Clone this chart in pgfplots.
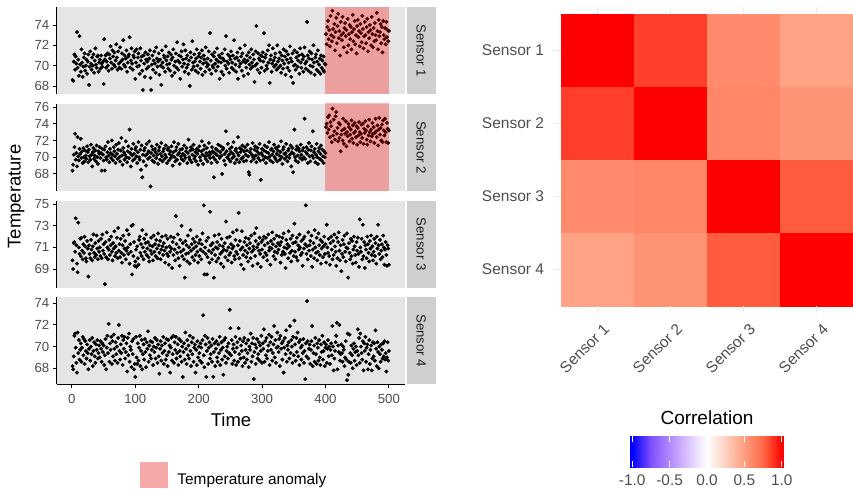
\documentclass[border=0pt]{standalone}
\usepackage{pgfplots}
\pgfplotsset{compat=1.18}
\usepackage{pgfplotstable}
\usepackage{fontspec}
\setmainfont{Liberation Sans}

\definecolor{panelbg}{HTML}{E5E5E5}
\definecolor{stripbg}{HTML}{CFCFCF}
\definecolor{ticktxt}{HTML}{4D4D4D}
\definecolor{striptxt}{HTML}{1A1A1A}
\definecolor{gridc}{HTML}{EBEBEB}
\definecolor{keyfill}{RGB}{246,169,169}

% temperature readings, t = 1..500
\pgfplotstableread[row sep=\\]{y\\
68.6\\ 68.5\\ 70.4\\ 71.1\\ 69.6\\ 70.9\\ 70.2\\ 73.3\\ 69.8\\ 70.6\\ 69.0\\ 72.9\\ 70.1\\ 69.4\\ 71.6\\ 70.3\\ 68.9\\ 69.9\\ 70.8\\ 71.2\\ 69.5\\ 70.0\\ 70.6\\ 69.2\\ 70.4\\
71.1\\ 68.1\\ 69.9\\ 71.4\\ 70.2\\ 69.6\\ 70.8\\ 70.0\\ 71.1\\ 69.3\\ 70.5\\ 71.7\\ 70.1\\ 69.8\\ 70.9\\ 71.0\\ 69.4\\ 70.3\\ 70.6\\ 69.7\\ 71.0\\ 70.2\\ 69.9\\ 70.4\\ 68.2\\
72.6\\ 70.6\\ 71.0\\ 69.8\\ 70.4\\ 71.2\\ 70.0\\ 69.5\\ 71.1\\ 70.7\\ 71.9\\ 70.3\\ 69.7\\ 71.5\\ 70.9\\ 70.1\\ 71.3\\ 69.9\\ 70.5\\ 72.1\\ 70.8\\ 69.6\\ 71.4\\ 70.2\\ 69.8\\
71.8\\ 70.4\\ 69.7\\ 71.2\\ 70.6\\ 72.5\\ 70.1\\ 71.0\\ 69.9\\ 70.7\\ 71.5\\ 69.4\\ 70.3\\ 70.9\\ 71.1\\ 72.8\\ 69.8\\ 70.5\\ 71.7\\ 70.2\\ 69.6\\ 71.0\\ 70.8\\ 71.4\\ 68.7\\
70.3\\ 71.6\\ 69.9\\ 70.8\\ 71.2\\ 70.0\\ 69.2\\ 71.7\\ 70.5\\ 70.9\\ 69.5\\ 67.6\\ 71.0\\ 70.2\\ 68.9\\ 71.3\\ 70.6\\ 69.7\\ 70.4\\ 71.1\\ 69.9\\ 70.7\\ 71.5\\ 68.8\\ 67.6\\
70.1\\ 71.0\\ 69.6\\ 70.5\\ 71.4\\ 70.2\\ 69.3\\ 71.8\\ 70.7\\ 69.9\\ 70.4\\ 71.2\\ 69.1\\ 70.6\\ 70.0\\ 68.1\\ 71.5\\ 70.3\\ 69.8\\ 71.0\\ 70.8\\ 69.4\\ 71.9\\ 70.5\\ 70.1\\
70.9\\ 69.7\\ 71.3\\ 70.2\\ 69.5\\ 71.1\\ 70.6\\ 69.0\\ 70.8\\ 71.6\\ 70.0\\ 69.3\\ 70.4\\ 71.2\\ 69.8\\ 72.3\\ 70.5\\ 69.6\\ 71.0\\ 70.3\\ 68.7\\ 70.9\\ 71.4\\ 69.9\\ 70.6\\
72.1\\ 70.2\\ 69.4\\ 71.5\\ 70.7\\ 69.8\\ 71.0\\ 70.1\\ 69.2\\ 70.5\\ 68.0\\ 71.3\\ 70.8\\ 69.6\\ 72.4\\ 70.3\\ 69.9\\ 71.1\\ 70.4\\ 69.5\\ 70.7\\ 71.6\\ 70.0\\ 69.3\\ 70.9\\
71.2\\ 70.4\\ 69.7\\ 70.8\\ 71.5\\ 69.1\\ 70.2\\ 71.0\\ 70.6\\ 69.4\\ 71.8\\ 70.3\\ 69.9\\ 70.7\\ 70.1\\ 71.4\\ 69.6\\ 73.2\\ 70.5\\ 69.2\\ 71.1\\ 70.0\\ 69.8\\ 70.9\\ 71.3\\
70.2\\ 69.5\\ 70.6\\ 71.7\\ 69.9\\ 70.4\\ 71.0\\ 68.7\\ 70.8\\ 70.3\\ 69.4\\ 71.2\\ 70.7\\ 69.1\\ 70.5\\ 71.6\\ 70.0\\ 72.9\\ 69.7\\ 70.4\\ 71.1\\ 70.2\\ 69.3\\ 70.9\\ 70.6\\
71.4\\ 69.8\\ 70.3\\ 71.0\\ 69.6\\ 72.5\\ 70.7\\ 70.1\\ 69.4\\ 70.8\\ 71.3\\ 68.7\\ 70.5\\ 69.9\\ 71.7\\ 70.2\\ 70.9\\ 69.5\\ 71.2\\ 70.4\\ 69.0\\ 70.6\\ 72.0\\ 70.3\\ 69.8\\
71.0\\ 70.5\\ 69.2\\ 71.3\\ 70.1\\ 70.8\\ 69.7\\ 71.6\\ 70.3\\ 69.9\\ 71.1\\ 70.6\\ 68.4\\ 70.0\\ 71.4\\ 73.9\\ 70.2\\ 69.6\\ 71.2\\ 70.7\\ 69.3\\ 70.5\\ 71.0\\ 69.8\\ 70.9\\
71.3\\ 70.4\\ 73.2\\ 69.5\\ 70.8\\ 71.1\\ 70.0\\ 69.7\\ 71.5\\ 70.3\\ 72.0\\ 68.3\\ 70.6\\ 71.0\\ 69.4\\ 70.2\\ 71.7\\ 70.5\\ 69.9\\ 70.8\\ 71.2\\ 70.1\\ 69.6\\ 72.0\\ 70.4\\
69.8\\ 70.7\\ 71.3\\ 70.0\\ 69.3\\ 71.0\\ 70.5\\ 69.7\\ 71.6\\ 70.2\\ 70.9\\ 69.1\\ 71.4\\ 70.6\\ 69.8\\ 71.1\\ 70.3\\ 69.5\\ 71.9\\ 70.7\\ 68.9\\ 70.4\\ 71.2\\ 68.3\\ 70.0\\
71.5\\ 70.1\\ 69.6\\ 70.8\\ 71.3\\ 69.9\\ 70.5\\ 71.0\\ 69.2\\ 71.7\\ 70.3\\ 69.8\\ 71.1\\ 70.6\\ 69.4\\ 70.9\\ 71.8\\ 70.2\\ 69.7\\ 70.4\\ 74.3\\ 71.0\\ 69.5\\ 70.7\\ 71.4\\
70.0\\ 69.3\\ 71.2\\ 70.6\\ 69.9\\ 72.0\\ 70.3\\ 69.1\\ 70.8\\ 71.1\\ 69.6\\ 70.4\\ 71.5\\ 69.4\\ 70.1\\ 70.7\\ 69.2\\ 71.0\\ 69.8\\ 70.5\\ 69.6\\ 70.9\\ 69.4\\ 70.2\\ 70.1\\
73.1\\ 72.1\\ 73.8\\ 74.4\\ 72.6\\ 73.5\\ 71.9\\ 74.9\\ 73.0\\ 72.4\\ 75.4\\ 73.6\\ 72.8\\ 74.1\\ 71.5\\ 73.3\\ 74.7\\ 72.2\\ 73.9\\ 75.1\\ 72.7\\ 73.4\\ 71.0\\ 74.3\\ 73.0\\
72.5\\ 74.8\\ 73.2\\ 71.8\\ 73.7\\ 74.2\\ 72.9\\ 73.5\\ 71.3\\ 74.6\\ 72.0\\ 73.1\\ 74.0\\ 72.6\\ 73.8\\ 71.6\\ 73.3\\ 75.0\\ 72.4\\ 73.6\\ 74.4\\ 72.1\\ 73.0\\ 71.2\\ 73.9\\
74.5\\ 72.8\\ 73.4\\ 71.9\\ 74.1\\ 73.2\\ 72.3\\ 74.9\\ 73.6\\ 71.7\\ 72.9\\ 74.3\\ 73.0\\ 72.2\\ 73.8\\ 74.6\\ 71.4\\ 73.3\\ 72.7\\ 74.0\\ 73.5\\ 72.0\\ 74.8\\ 73.1\\ 71.8\\
73.7\\ 72.4\\ 74.2\\ 73.0\\ 72.5\\ 75.2\\ 73.4\\ 71.6\\ 74.5\\ 72.9\\ 73.3\\ 74.1\\ 72.2\\ 73.8\\ 71.3\\ 74.4\\ 73.0\\ 72.6\\ 73.7\\ 72.1\\ 74.3\\ 72.8\\ 73.5\\ 72.4\\ 73.4\\
}\sone

\pgfplotstableread[row sep=\\]{y\\
68.4\\ 69.1\\ 70.3\\ 71.2\\ 72.8\\ 69.7\\ 70.5\\ 68.9\\ 72.4\\ 70.1\\ 69.6\\ 71.0\\ 70.4\\ 72.2\\ 69.9\\ 70.7\\ 69.3\\ 71.1\\ 70.0\\ 69.5\\ 70.8\\ 70.2\\ 69.8\\ 71.3\\ 70.6\\
69.4\\ 70.9\\ 70.1\\ 69.7\\ 71.5\\ 70.3\\ 68.9\\ 70.6\\ 71.1\\ 69.8\\ 70.2\\ 70.8\\ 69.5\\ 71.4\\ 70.0\\ 69.2\\ 70.7\\ 70.4\\ 71.2\\ 69.9\\ 70.5\\ 68.4\\ 71.0\\ 70.3\\ 69.6\\
70.9\\ 68.4\\ 71.3\\ 70.0\\ 69.7\\ 70.6\\ 71.8\\ 70.2\\ 69.4\\ 71.0\\ 70.5\\ 69.9\\ 72.0\\ 70.3\\ 69.6\\ 71.2\\ 70.7\\ 70.1\\ 69.3\\ 71.5\\ 70.4\\ 69.8\\ 70.9\\ 71.7\\ 70.0\\
69.5\\ 70.8\\ 72.3\\ 70.2\\ 69.1\\ 71.1\\ 70.6\\ 69.7\\ 70.3\\ 71.9\\ 70.0\\ 69.4\\ 70.7\\ 71.3\\ 69.9\\ 73.3\\ 70.5\\ 68.9\\ 71.0\\ 70.2\\ 69.6\\ 71.6\\ 70.4\\ 69.8\\ 70.9\\
71.2\\ 70.1\\ 69.3\\ 70.6\\ 71.8\\ 70.0\\ 69.7\\ 70.9\\ 68.5\\ 71.4\\ 67.6\\ 70.3\\ 69.5\\ 70.8\\ 71.1\\ 70.2\\ 69.0\\ 71.6\\ 70.4\\ 69.8\\ 70.7\\ 71.9\\ 70.0\\ 66.5\\ 70.5\\
71.3\\ 69.6\\ 70.9\\ 70.2\\ 69.4\\ 71.0\\ 70.6\\ 69.9\\ 71.5\\ 70.3\\ 69.2\\ 70.8\\ 71.2\\ 69.7\\ 70.4\\ 71.7\\ 70.1\\ 69.5\\ 70.7\\ 71.0\\ 69.8\\ 70.3\\ 71.4\\ 70.0\\ 69.3\\
70.9\\ 71.1\\ 69.6\\ 70.4\\ 70.7\\ 69.9\\ 71.3\\ 70.2\\ 69.0\\ 70.6\\ 71.8\\ 70.0\\ 69.5\\ 70.8\\ 71.2\\ 69.7\\ 70.3\\ 71.6\\ 70.5\\ 69.2\\ 70.9\\ 70.1\\ 69.8\\ 71.0\\ 70.4\\
69.6\\ 71.4\\ 70.2\\ 69.9\\ 70.7\\ 71.1\\ 69.3\\ 70.5\\ 72.1\\ 70.0\\ 69.7\\ 70.8\\ 71.2\\ 69.4\\ 70.3\\ 70.9\\ 71.5\\ 69.8\\ 70.1\\ 70.6\\ 69.5\\ 71.0\\ 70.4\\ 69.1\\ 70.8\\
71.3\\ 70.0\\ 69.6\\ 70.7\\ 71.9\\ 70.3\\ 69.2\\ 70.9\\ 71.4\\ 70.1\\ 69.8\\ 70.5\\ 71.1\\ 69.5\\ 70.2\\ 71.7\\ 70.6\\ 69.9\\ 70.4\\ 69.3\\ 71.2\\ 70.7\\ 70.0\\ 67.6\\ 70.5\\
69.7\\ 71.0\\ 70.3\\ 69.4\\ 70.8\\ 71.5\\ 70.1\\ 69.9\\ 70.6\\ 71.3\\ 70.2\\ 68.0\\ 70.9\\ 71.1\\ 69.6\\ 70.4\\ 69.1\\ 73.1\\ 70.7\\ 70.0\\ 71.6\\ 69.8\\ 70.3\\ 71.0\\ 69.5\\
70.6\\ 71.2\\ 69.9\\ 70.4\\ 71.8\\ 70.1\\ 69.3\\ 70.8\\ 71.0\\ 69.7\\ 70.5\\ 72.4\\ 70.2\\ 69.4\\ 71.1\\ 70.6\\ 69.8\\ 70.9\\ 71.4\\ 70.0\\ 69.5\\ 70.7\\ 71.2\\ 70.3\\ 69.6\\
70.8\\ 71.5\\ 70.1\\ 68.2\\ 67.9\\ 70.6\\ 71.0\\ 69.5\\ 70.3\\ 71.7\\ 70.0\\ 69.8\\ 70.9\\ 71.3\\ 70.2\\ 69.4\\ 70.7\\ 71.1\\ 69.9\\ 70.4\\ 71.6\\ 69.6\\ 67.3\\ 70.5\\ 71.0\\
70.2\\ 69.7\\ 70.8\\ 71.4\\ 70.0\\ 69.3\\ 70.6\\ 71.2\\ 69.9\\ 70.5\\ 71.8\\ 70.1\\ 69.6\\ 70.9\\ 71.0\\ 70.3\\ 69.4\\ 70.7\\ 71.5\\ 70.0\\ 69.8\\ 71.1\\ 70.4\\ 69.5\\ 70.8\\
71.3\\ 70.2\\ 69.7\\ 70.6\\ 71.9\\ 70.0\\ 69.2\\ 70.9\\ 71.2\\ 70.4\\ 69.8\\ 70.5\\ 71.6\\ 70.1\\ 69.5\\ 70.8\\ 71.0\\ 69.9\\ 70.3\\ 71.4\\ 68.9\\ 70.6\\ 71.1\\ 68.2\\ 70.4\\
73.3\\ 70.0\\ 69.6\\ 70.9\\ 71.3\\ 70.2\\ 69.4\\ 71.0\\ 70.7\\ 69.9\\ 71.5\\ 70.3\\ 69.7\\ 70.8\\ 71.1\\ 70.0\\ 74.6\\ 69.8\\ 70.6\\ 71.2\\ 70.4\\ 69.3\\ 70.9\\ 71.7\\ 70.1\\
69.5\\ 70.8\\ 71.3\\ 70.2\\ 73.1\\ 69.9\\ 70.6\\ 71.0\\ 69.4\\ 70.3\\ 71.6\\ 70.0\\ 69.2\\ 70.7\\ 71.1\\ 69.8\\ 70.4\\ 71.4\\ 69.6\\ 70.9\\ 70.1\\ 69.3\\ 70.7\\ 70.0\\ 70.5\\
73.6\\ 74.0\\ 72.9\\ 74.8\\ 73.3\\ 75.0\\ 72.4\\ 74.2\\ 73.7\\ 71.8\\ 75.8\\ 72.6\\ 74.5\\ 73.1\\ 72.1\\ 74.9\\ 75.4\\ 72.8\\ 73.5\\ 71.9\\ 74.1\\ 72.3\\ 73.9\\ 70.7\\ 72.7\\
73.2\\ 72.0\\ 74.6\\ 71.6\\ 73.4\\ 72.8\\ 74.3\\ 71.3\\ 73.0\\ 72.5\\ 74.0\\ 73.6\\ 71.9\\ 72.7\\ 73.3\\ 74.4\\ 72.2\\ 73.8\\ 71.7\\ 72.9\\ 74.1\\ 73.1\\ 72.4\\ 73.7\\ 71.5\\
73.5\\ 72.6\\ 74.2\\ 73.0\\ 71.8\\ 72.8\\ 73.9\\ 72.3\\ 74.0\\ 71.6\\ 73.4\\ 72.9\\ 74.3\\ 73.2\\ 72.1\\ 71.5\\ 73.7\\ 72.6\\ 74.5\\ 73.0\\ 71.9\\ 73.3\\ 72.5\\ 74.1\\ 72.8\\
73.6\\ 71.7\\ 72.9\\ 74.6\\ 73.1\\ 72.4\\ 73.8\\ 71.4\\ 73.3\\ 74.7\\ 72.7\\ 73.5\\ 72.0\\ 73.9\\ 71.8\\ 74.4\\ 73.2\\ 72.6\\ 74.6\\ 73.0\\ 71.8\\ 74.1\\ 73.4\\ 71.7\\ 73.2\\
}\stwo

\pgfplotstableread[row sep=\\]{y\\
69.8\\ 69.0\\ 71.4\\ 71.5\\ 70.6\\ 73.7\\ 71.2\\ 69.5\\ 68.7\\ 73.3\\ 71.0\\ 70.4\\ 71.8\\ 70.2\\ 71.9\\ 70.7\\ 69.9\\ 71.3\\ 70.5\\ 72.0\\ 71.1\\ 70.0\\ 69.7\\ 71.6\\ 70.9\\
68.3\\ 71.2\\ 70.4\\ 70.0\\ 71.7\\ 70.8\\ 69.8\\ 71.1\\ 72.2\\ 70.5\\ 70.1\\ 71.4\\ 70.3\\ 72.1\\ 70.9\\ 69.9\\ 71.6\\ 70.6\\ 71.0\\ 70.2\\ 71.8\\ 70.0\\ 72.2\\ 70.7\\ 71.3\\
70.4\\ 67.6\\ 71.5\\ 70.1\\ 72.4\\ 71.0\\ 69.9\\ 70.8\\ 71.7\\ 70.3\\ 71.2\\ 72.0\\ 70.6\\ 69.8\\ 71.4\\ 70.9\\ 72.5\\ 70.2\\ 71.1\\ 70.5\\ 71.9\\ 70.0\\ 72.8\\ 70.7\\ 71.3\\
70.1\\ 71.8\\ 70.5\\ 69.6\\ 71.2\\ 72.1\\ 70.3\\ 70.9\\ 71.6\\ 69.9\\ 70.7\\ 72.6\\ 71.0\\ 70.4\\ 72.2\\ 69.5\\ 71.3\\ 70.6\\ 73.0\\ 68.5\\ 73.1\\ 70.2\\ 71.5\\ 69.3\\ 69.7\\
70.8\\ 69.2\\ 71.1\\ 70.0\\ 69.4\\ 71.7\\ 72.0\\ 70.5\\ 71.3\\ 70.2\\ 72.6\\ 71.0\\ 69.9\\ 71.8\\ 70.6\\ 71.4\\ 72.2\\ 70.3\\ 70.9\\ 71.5\\ 70.1\\ 69.7\\ 71.2\\ 70.7\\ 71.9\\
70.4\\ 71.1\\ 69.8\\ 72.1\\ 70.6\\ 71.3\\ 70.2\\ 71.7\\ 70.9\\ 70.0\\ 72.3\\ 71.2\\ 70.5\\ 71.6\\ 69.9\\ 70.8\\ 72.0\\ 71.1\\ 70.3\\ 71.4\\ 70.7\\ 69.6\\ 72.1\\ 71.0\\ 70.4\\
71.8\\ 70.2\\ 69.4\\ 71.1\\ 70.6\\ 72.0\\ 70.9\\ 69.1\\ 71.5\\ 70.3\\ 71.9\\ 70.8\\ 69.8\\ 73.9\\ 71.3\\ 70.5\\ 72.2\\ 70.0\\ 71.0\\ 69.3\\ 71.7\\ 70.6\\ 73.0\\ 70.2\\ 71.4\\
70.8\\ 69.9\\ 68.2\\ 71.6\\ 70.4\\ 71.2\\ 69.7\\ 72.1\\ 70.5\\ 71.0\\ 69.5\\ 72.6\\ 70.7\\ 71.3\\ 70.1\\ 71.8\\ 70.9\\ 69.8\\ 71.5\\ 70.3\\ 71.1\\ 72.0\\ 70.6\\ 69.6\\ 71.4\\
70.2\\ 71.7\\ 70.8\\ 69.9\\ 71.3\\ 72.3\\ 70.6\\ 74.9\\ 68.5\\ 71.0\\ 70.4\\ 71.6\\ 68.5\\ 70.1\\ 71.9\\ 70.7\\ 69.6\\ 74.3\\ 71.2\\ 70.5\\ 69.9\\ 71.4\\ 70.8\\ 68.2\\ 72.1\\
70.3\\ 71.0\\ 69.7\\ 71.5\\ 70.9\\ 70.0\\ 72.2\\ 71.2\\ 70.4\\ 69.5\\ 71.8\\ 70.6\\ 71.1\\ 69.2\\ 70.8\\ 71.4\\ 70.1\\ 73.4\\ 70.7\\ 71.9\\ 69.8\\ 71.0\\ 70.3\\ 72.0\\ 70.5\\
71.3\\ 69.6\\ 70.9\\ 72.4\\ 71.1\\ 70.2\\ 69.9\\ 71.7\\ 70.6\\ 72.6\\ 70.4\\ 71.2\\ 74.2\\ 70.0\\ 71.6\\ 70.8\\ 69.4\\ 72.5\\ 71.0\\ 70.3\\ 69.0\\ 71.5\\ 70.7\\ 71.9\\ 70.1\\
71.2\\ 70.5\\ 69.7\\ 71.8\\ 70.9\\ 71.4\\ 70.0\\ 72.1\\ 70.6\\ 69.3\\ 71.1\\ 70.8\\ 72.3\\ 70.2\\ 71.6\\ 72.8\\ 71.0\\ 69.5\\ 71.3\\ 70.7\\ 71.9\\ 70.4\\ 69.2\\ 71.5\\ 70.8\\
71.7\\ 70.1\\ 72.0\\ 71.2\\ 70.5\\ 71.9\\ 70.3\\ 69.8\\ 71.4\\ 72.2\\ 70.7\\ 71.0\\ 69.4\\ 71.6\\ 70.9\\ 72.4\\ 71.3\\ 70.2\\ 71.8\\ 70.6\\ 69.9\\ 71.1\\ 72.1\\ 70.5\\ 71.4\\
70.8\\ 72.0\\ 71.2\\ 69.6\\ 71.5\\ 70.3\\ 71.9\\ 70.6\\ 72.3\\ 71.0\\ 70.4\\ 69.1\\ 71.7\\ 70.9\\ 71.3\\ 70.0\\ 72.5\\ 71.1\\ 70.5\\ 71.8\\ 69.7\\ 70.7\\ 72.1\\ 71.4\\ 70.2\\
73.2\\ 70.6\\ 71.5\\ 70.1\\ 71.9\\ 69.8\\ 71.2\\ 70.8\\ 72.2\\ 71.0\\ 70.3\\ 71.6\\ 70.5\\ 69.3\\ 71.8\\ 70.9\\ 72.0\\ 71.3\\ 74.9\\ 70.4\\ 71.1\\ 69.9\\ 72.4\\ 70.7\\ 71.2\\
71.6\\ 70.2\\ 72.1\\ 69.2\\ 70.8\\ 71.4\\ 70.0\\ 72.6\\ 71.0\\ 70.5\\ 71.9\\ 69.8\\ 70.6\\ 72.3\\ 71.2\\ 70.3\\ 71.7\\ 69.5\\ 70.9\\ 71.5\\ 70.1\\ 71.1\\ 72.0\\ 70.4\\ 71.3\\
69.6\\ 73.1\\ 71.0\\ 70.5\\ 71.8\\ 70.2\\ 69.4\\ 71.4\\ 72.0\\ 70.8\\ 69.9\\ 71.6\\ 70.3\\ 72.2\\ 71.1\\ 70.6\\ 69.3\\ 71.9\\ 70.0\\ 71.5\\ 72.4\\ 70.7\\ 69.8\\ 71.2\\ 68.8\\
70.4\\ 71.7\\ 70.1\\ 71.3\\ 72.1\\ 70.6\\ 69.7\\ 71.0\\ 72.3\\ 70.9\\ 68.2\\ 71.4\\ 70.5\\ 69.9\\ 71.8\\ 70.2\\ 71.6\\ 69.5\\ 70.8\\ 72.0\\ 71.1\\ 70.3\\ 69.6\\ 71.5\\ 70.7\\
71.9\\ 70.4\\ 69.2\\ 73.6\\ 71.0\\ 70.6\\ 71.8\\ 69.9\\ 73.1\\ 70.2\\ 71.5\\ 69.1\\ 71.2\\ 70.8\\ 70.0\\ 72.0\\ 71.3\\ 70.5\\ 69.7\\ 71.6\\ 70.9\\ 72.1\\ 70.3\\ 71.1\\ 69.8\\
70.6\\ 71.8\\ 70.2\\ 71.4\\ 69.5\\ 72.0\\ 70.9\\ 73.1\\ 71.2\\ 70.4\\ 71.7\\ 69.9\\ 70.7\\ 71.3\\ 70.1\\ 72.1\\ 71.0\\ 69.4\\ 70.8\\ 71.5\\ 70.3\\ 69.3\\ 71.2\\ 70.9\\ 69.4\\
}\sthree

\pgfplotstableread[row sep=\\]{y\\
68.2\\ 67.9\\ 69.1\\ 71.0\\ 71.2\\ 69.9\\ 68.5\\ 67.6\\ 71.3\\ 69.4\\ 70.6\\ 68.8\\ 69.7\\ 70.3\\ 68.6\\ 69.9\\ 70.9\\ 69.2\\ 70.7\\ 68.4\\ 70.5\\ 69.6\\ 68.9\\ 70.2\\ 69.4\\
67.9\\ 69.8\\ 70.6\\ 68.7\\ 70.0\\ 69.3\\ 70.8\\ 68.2\\ 69.6\\ 70.4\\ 69.1\\ 68.5\\ 70.2\\ 69.7\\ 70.6\\ 68.9\\ 69.4\\ 70.1\\ 69.0\\ 70.5\\ 69.8\\ 68.6\\ 70.3\\ 69.5\\ 70.1\\
68.3\\ 69.2\\ 70.7\\ 67.9\\ 69.9\\ 71.0\\ 69.4\\ 72.1\\ 68.6\\ 70.3\\ 69.7\\ 70.9\\ 68.4\\ 70.5\\ 69.1\\ 71.1\\ 69.8\\ 68.7\\ 70.4\\ 69.3\\ 70.0\\ 68.5\\ 70.8\\ 72.0\\ 69.6\\
68.8\\ 70.2\\ 69.4\\ 71.0\\ 68.3\\ 70.6\\ 69.8\\ 70.9\\ 68.9\\ 69.5\\ 70.3\\ 67.7\\ 70.8\\ 69.2\\ 71.2\\ 68.6\\ 70.0\\ 69.7\\ 68.1\\ 70.5\\ 69.3\\ 70.7\\ 67.9\\ 68.4\\ 67.2\\
70.9\\ 69.0\\ 68.4\\ 70.3\\ 68.7\\ 69.9\\ 71.0\\ 68.2\\ 69.6\\ 70.6\\ 67.9\\ 69.3\\ 70.2\\ 68.8\\ 70.7\\ 69.5\\ 68.1\\ 70.4\\ 69.8\\ 71.4\\ 68.6\\ 70.1\\ 69.2\\ 70.5\\ 68.9\\
69.7\\ 70.4\\ 68.3\\ 70.0\\ 69.5\\ 70.8\\ 68.9\\ 69.9\\ 70.6\\ 68.5\\ 70.2\\ 69.1\\ 67.5\\ 69.8\\ 70.5\\ 68.7\\ 70.1\\ 69.4\\ 70.9\\ 68.4\\ 69.6\\ 70.3\\ 68.8\\ 70.7\\ 69.2\\
68.2\\ 70.6\\ 69.5\\ 70.1\\ 67.6\\ 69.9\\ 70.8\\ 68.7\\ 69.3\\ 71.0\\ 68.5\\ 70.4\\ 69.7\\ 70.9\\ 68.9\\ 69.4\\ 70.2\\ 68.3\\ 70.7\\ 69.6\\ 69.1\\ 70.5\\ 68.6\\ 70.0\\ 67.2\\
69.5\\ 70.3\\ 68.8\\ 71.3\\ 69.8\\ 68.4\\ 70.6\\ 69.2\\ 70.1\\ 68.9\\ 71.0\\ 69.6\\ 68.2\\ 70.4\\ 69.3\\ 70.8\\ 68.6\\ 69.9\\ 70.2\\ 67.6\\ 69.7\\ 68.3\\ 70.5\\ 69.0\\ 70.0\\
69.4\\ 68.7\\ 70.3\\ 69.9\\ 68.5\\ 70.6\\ 72.9\\ 69.2\\ 68.1\\ 71.0\\ 70.2\\ 67.2\\ 69.6\\ 70.8\\ 68.4\\ 69.9\\ 70.4\\ 68.9\\ 69.3\\ 70.1\\ 68.6\\ 70.7\\ 67.2\\ 69.5\\ 70.3\\
68.2\\ 69.8\\ 70.5\\ 69.0\\ 68.6\\ 70.2\\ 69.4\\ 70.9\\ 68.3\\ 69.7\\ 70.4\\ 68.8\\ 69.9\\ 67.4\\ 70.6\\ 69.1\\ 70.8\\ 68.5\\ 69.6\\ 70.0\\ 68.9\\ 70.3\\ 69.4\\ 73.4\\ 71.7\\
69.2\\ 70.6\\ 68.4\\ 69.8\\ 70.2\\ 68.7\\ 69.5\\ 70.9\\ 68.3\\ 69.9\\ 70.4\\ 68.6\\ 71.7\\ 69.3\\ 70.7\\ 68.9\\ 70.1\\ 69.6\\ 68.2\\ 70.5\\ 69.0\\ 70.8\\ 68.5\\ 69.7\\ 70.3\\
68.8\\ 69.4\\ 70.6\\ 68.1\\ 70.0\\ 69.7\\ 71.2\\ 68.6\\ 70.3\\ 69.1\\ 70.8\\ 67.0\\ 69.5\\ 70.2\\ 68.4\\ 69.9\\ 70.7\\ 68.9\\ 69.3\\ 70.4\\ 68.7\\ 70.1\\ 69.6\\ 71.0\\ 68.5\\
70.3\\ 69.8\\ 71.6\\ 68.6\\ 70.5\\ 69.2\\ 70.8\\ 68.9\\ 69.6\\ 70.1\\ 71.1\\ 68.3\\ 70.4\\ 69.7\\ 70.9\\ 68.7\\ 69.4\\ 70.2\\ 71.9\\ 69.0\\ 70.6\\ 68.5\\ 69.9\\ 71.3\\ 70.0\\
69.5\\ 70.7\\ 68.2\\ 71.0\\ 69.8\\ 70.3\\ 68.8\\ 70.5\\ 67.6\\ 69.9\\ 70.8\\ 69.3\\ 71.5\\ 68.6\\ 70.1\\ 69.7\\ 70.4\\ 68.9\\ 71.9\\ 69.4\\ 70.6\\ 70.0\\ 68.5\\ 70.9\\ 69.2\\
72.4\\ 70.2\\ 68.7\\ 70.8\\ 69.5\\ 71.3\\ 69.1\\ 70.4\\ 68.3\\ 70.6\\ 69.9\\ 68.8\\ 70.1\\ 69.4\\ 70.7\\ 68.5\\ 69.6\\ 67.0\\ 70.3\\ 69.1\\ 74.2\\ 70.5\\ 68.9\\ 69.8\\ 70.2\\
68.4\\ 69.7\\ 70.5\\ 71.9\\ 68.2\\ 69.4\\ 70.1\\ 68.6\\ 70.8\\ 69.3\\ 68.4\\ 70.3\\ 69.9\\ 68.7\\ 70.6\\ 69.0\\ 68.3\\ 70.2\\ 69.5\\ 71.0\\ 68.8\\ 69.6\\ 70.4\\ 68.2\\ 69.9\\
70.2\\ 68.5\\ 69.8\\ 70.6\\ 69.1\\ 70.0\\ 68.4\\ 69.7\\ 70.3\\ 69.2\\ 71.9\\ 70.0\\ 67.8\\ 68.9\\ 69.6\\ 70.4\\ 71.0\\ 72.2\\ 67.9\\ 70.1\\ 69.5\\ 72.0\\ 68.7\\ 69.3\\ 70.2\\
69.4\\ 68.6\\ 70.0\\ 69.7\\ 68.2\\ 69.0\\ 70.5\\ 68.8\\ 66.9\\ 71.2\\ 67.4\\ 68.6\\ 71.1\\ 69.4\\ 68.5\\ 70.1\\ 69.2\\ 68.0\\ 69.8\\ 70.3\\ 68.7\\ 69.5\\ 70.0\\ 68.3\\ 69.6\\
71.6\\ 69.2\\ 70.8\\ 68.5\\ 71.2\\ 70.0\\ 69.4\\ 68.8\\ 70.5\\ 67.8\\ 70.3\\ 69.6\\ 70.9\\ 68.6\\ 69.9\\ 70.2\\ 67.9\\ 69.3\\ 70.6\\ 68.4\\ 69.7\\ 70.1\\ 67.8\\ 68.9\\ 70.4\\
69.1\\ 70.3\\ 68.7\\ 71.5\\ 69.8\\ 68.2\\ 70.4\\ 69.5\\ 68.0\\ 70.0\\ 69.3\\ 68.6\\ 70.2\\ 69.7\\ 68.9\\ 70.3\\ 69.1\\ 70.5\\ 68.8\\ 69.4\\ 67.7\\ 69.0\\ 70.4\\ 68.7\\ 69.6\\
}\sfour

\pgfplotsset{
  colormap={corr}{rgb255(0cm)=(0,0,255) rgb255(1cm)=(126,81,255) rgb255(2cm)=(179,139,255)
    rgb255(3cm)=(220,196,255) rgb255(4cm)=(255,255,255) rgb255(5cm)=(255,207,191)
    rgb255(6cm)=(255,158,129) rgb255(7cm)=(255,104,70) rgb255(8cm)=(255,0,0)},
  tspanel/.style={
    scale only axis, width=348pt, height=87pt,
    xmin=-24, xmax=525,
    axis background/.style={fill=panelbg},
    axis y line*=left,
    axis line style={black, line width=1.1pt},
    tick style={black, line width=0.9pt},
    tick align=outside, major tick length=4pt,
    ticklabel style={font=\fontsize{13.2}{15}\selectfont, text=ticktxt},
    yticklabel style={inner sep=0pt, anchor=east, xshift=-3.3pt},
    /pgf/number format/assume math mode=true,
    clip marker paths=true,
  },
  notimeaxis/.style={axis x line=none, xtick=\empty},
  pts/.style={only marks, mark=*, mark size=1.75pt, black, mark options={draw=none, fill=black}},
  anomaly/.style={fill=red, fill opacity=0.3, draw=none, forget plot},
}

\newcommand{\tfont}{\fontsize{18.5}{22}\selectfont}

\begin{document}
\begin{tikzpicture}
\useasboundingbox (0pt,0pt) rectangle (853pt,488pt);

% ---- Sensor 1 ----
\begin{axis}[tspanel, notimeaxis, at={(56.7pt,393.7pt)}, anchor=south west,
  ymin=67.18, ymax=75.74, ytick={68,70,72,74}]
  \addplot[pts] table[x expr=\coordindex+1, y index=0] {\sone};
  \addplot[anomaly] coordinates {(400,80) (500,80)} \closedcycle;
\end{axis}
% ---- Sensor 2 ----
\begin{axis}[tspanel, notimeaxis, at={(56.7pt,297pt)}, anchor=south west,
  ymin=65.96, ymax=76.36, ytick={68,70,72,74,76}]
  \addplot[pts] table[x expr=\coordindex+1, y index=0] {\stwo};
  \addplot[anomaly] coordinates {(400,80) (500,80)} \closedcycle;
\end{axis}
% ---- Sensor 3 ----
\begin{axis}[tspanel, notimeaxis, at={(56.7pt,200.3pt)}, anchor=south west,
  ymin=67.27, ymax=75.33, ytick={69,71,73,75}]
  \addplot[pts] table[x expr=\coordindex+1, y index=0] {\sthree};
\end{axis}
% ---- Sensor 4 ----
\begin{axis}[tspanel, at={(56.7pt,103.7pt)}, anchor=south west,
  axis x line*=bottom,
  ymin=66.52, ymax=74.55, ytick={68,70,72,74},
  xtick={0,100,...,500},
  xticklabel style={inner sep=0pt, anchor=north, yshift=-5.5pt},
  legend style={at={(0.2374,-1.039)}, anchor=west, draw=none, fill=none,
    inner sep=0pt, font=\fontsize{15.4}{18}\selectfont, text=black,
    /tikz/every odd column/.append style={column sep=7.5pt}},
  legend cell align=left]
  \addplot[pts, forget plot] table[x expr=\coordindex+1, y index=0] {\sfour};
  \addlegendimage{legend image code/.code={\fill[keyfill, draw=none] (0pt,-8.5pt) rectangle (28.4pt,17.5pt);}}
  \addlegendentry{Temperature anomaly}
\end{axis}

% facet strips
\foreach \b/\lab in {393.7/Sensor 1, 297/Sensor 2, 200.3/Sensor 3, 103.7/Sensor 4}{
  \fill[stripbg] (407pt,\b pt) rectangle (435.5pt,\b pt+87pt);
  \node[rotate=-90, text=striptxt, font=\fontsize{13.2}{15}\selectfont]
    at (421.2pt,\b pt+43.5pt) {\lab};
}
\node[rotate=90, anchor=base, font=\tfont] at (20.5pt,291.5pt) {Temperature};
\node[anchor=base, font=\tfont] at (231pt,61.5pt) {Time};

% ---- correlation heatmap ----
\begin{axis}[at={(553.7pt,174.7pt)}, anchor=south west, scale only axis,
  width=306.6pt, height=306.6pt,
  xmin=0.4, xmax=4.6, ymin=0.4, ymax=4.6, y dir=reverse,
  xtick={1,2,3,4}, ytick={1,2,3,4},
  xticklabels={Sensor 1,Sensor 2,Sensor 3,Sensor 4},
  yticklabels={Sensor 1,Sensor 2,Sensor 3,Sensor 4},
  axis line style={draw=none},
  tick align=inside, tick pos=both, major tick length=7.3pt,
  tick style={gridc, line width=1.1pt},
  colormap name=corr, point meta min=-1, point meta max=1,
  ticklabel style={font=\fontsize{15.5}{18}\selectfont, text=ticktxt},
  xticklabel pos=lower, yticklabel pos=left,
  xticklabel style={rotate=45, anchor=north east, inner sep=0pt, yshift=-10pt, xshift=-3pt},
  yticklabel style={anchor=east, inner sep=0pt, xshift=-9.5pt},
  clip=false]
  \addplot[matrix plot, faceted color=black!18, line width=0.4pt,
    mesh/cols=4, point meta=explicit] table[meta=c] {
x y c
1 1 1.00
2 1 0.85
3 1 0.59
4 1 0.48
1 2 0.85
2 2 1.00
3 2 0.61
4 2 0.55
1 3 0.59
2 3 0.61
3 3 1.00
4 3 0.78
1 4 0.48
2 4 0.55
3 4 0.78
4 4 1.00
};
\end{axis}

% ---- colour bar ----
\begin{axis}[at={(630pt,21pt)}, anchor=south west, scale only axis,
  width=154pt, height=31pt, view={0}{90},
  xmin=-1.03, xmax=1.03, ymin=0, ymax=1,
  xtick={-1,-0.5,0,0.5,1}, xticklabels={-1.0,-0.5,0.0,0.5,1.0}, ytick=\empty,
  axis line style={draw=none}, tick align=inside, major tick length=6pt,
  xtick style={white, line width=0.9pt}, axis on top,
  xticklabel style={font=\fontsize{15.4}{18}\selectfont, text=ticktxt, inner sep=0pt, anchor=north, yshift=-7.5pt},
  colormap name=corr, point meta min=-1, point meta max=1]
  \addplot3[surf, shader=interp, point meta=x, mesh/cols=11] coordinates {
    (-1.03,0,0) (-1,0,0) (-0.75,0,0) (-0.5,0,0) (-0.25,0,0) (0,0,0) (0.25,0,0) (0.5,0,0) (0.75,0,0) (1,0,0) (1.03,0,0)
    (-1.03,1,0) (-1,1,0) (-0.75,1,0) (-0.5,1,0) (-0.25,1,0) (0,1,0) (0.25,1,0) (0.5,1,0) (0.75,1,0) (1,1,0) (1.03,1,0)
  };
\end{axis}
\node[anchor=base, font=\fontsize{19}{22}\selectfont] at (707pt,64pt) {Correlation};

\end{tikzpicture}
\end{document}
